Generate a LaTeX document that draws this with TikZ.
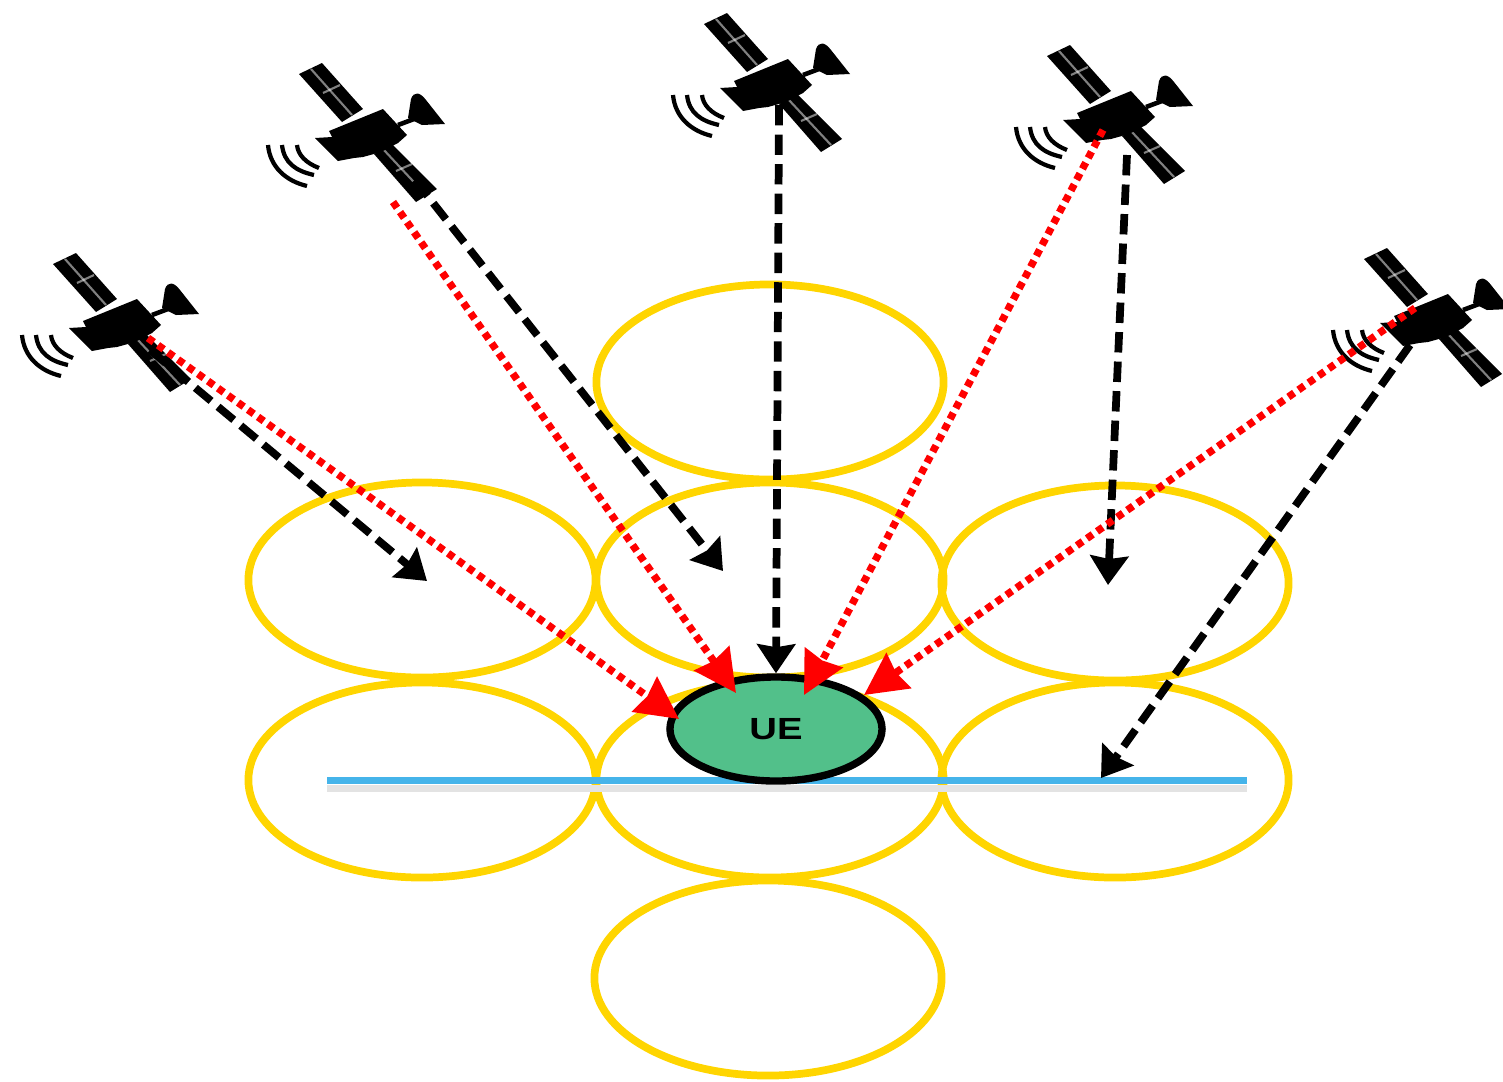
\documentclass[tikz,border=0pt]{standalone}
\usepackage{xcolor}
\usepackage{fontspec}
\setsansfont{Liberation Sans}
\usetikzlibrary{arrows.meta,shapes.geometric}

\definecolor{cellyellow}{HTML}{FFD500}
\definecolor{uegreen}{HTML}{52C08A}
\definecolor{lineblue}{HTML}{45B4EA}

\tikzset{
	cell/.style={ellipse, draw=cellyellow, line width=2.2pt, minimum width=3.47cm, minimum height=1.95cm, inner sep=0pt},
	losline/.style={-{Stealth[length=0.29cm, width=0.38cm, inset=0.03cm]}, black, line width=2.2pt, dash pattern=on 5.8pt off 2.6pt},
	nlosline/.style={-{Stealth[length=0.42cm, width=0.42cm, inset=0.03cm]}, red, line width=2.1pt, dash pattern=on 2pt off 1.5pt},
	sat/.pic={
		% wings
		\fill[black] (-69,-59) -- (-46,-70) -- (-5,-24) -- (-26,-11) -- cycle;
		\fill[black] (6,21) -- (24,11) -- (69,56) -- (48,69) -- cycle;
		\draw[white, opacity=0.5, line width=0.6pt] (-57,-64) -- (-16,-18);
		\draw[white, opacity=0.5, line width=0.6pt] (15,16) -- (58,62);
		\draw[white, opacity=0.5, line width=0.6pt] (-45,-40) -- (-28,-48);
		\draw[white, opacity=0.5, line width=0.6pt] (28,38) -- (44,31);
		% body
		\fill[black] (-39,-2) -- (15,-24) -- (39,2) -- (30,10) -- (13,19) -- (-5,24) -- (-14,25) -- (-30,28) -- (-53,5) -- (-36,4) -- cycle;
		% dish
		\draw[black, line width=1.3pt] (30,-8) -- (46,-14);
		\fill[black] (40,-15) -- (43,-34) .. controls (46,-42) and (52,-41) .. (58,-33) -- (77,-9) -- (54,-8) -- cycle;
		% signal
		\draw[black, line width=1.2pt] (-100,12) .. controls (-98,34) and (-82,48) .. (-61,53);
		\draw[black, line width=1.2pt] (-86,12) .. controls (-84,30) and (-72,38) .. (-54,42);
		\draw[black, line width=1.2pt] (-71,12) .. controls (-70,22) and (-62,30) .. (-49,35);
	}
}

\begin{document}
\begin{tikzpicture}[x=0.01cm, y=-0.01cm]
	\useasboundingbox (0,0) rectangle (1503,1081);

	% coverage cells
	\foreach \name/\cx/\cy in {top/770/382, ml/422/580, mc/770/580, mr/1115/583, ll/422/780, lc/770/780, lr/1115/780, bot/768/978}
		\node[cell] (\name) at (\cx,\cy) {};

	% ground line
	\coordinate (gl) at (327,780);
	\coordinate (gr) at (1247,780);
	\coordinate (gls) at (327,788);
	\coordinate (grs) at (1247,788);
	\draw[gray!22, line width=2pt] (gls) -- (grs);
	\draw[lineblue, line width=2pt] (gl) -- (gr);

	% satellites
	\pic at (122,323) {sat};
	\pic at (368,133) {sat};
	\pic at (773,83) {sat};
	\pic at (1116,115) {sat};
	\pic at (1433,318) {sat};

	\node[ellipse, draw=black, fill=uegreen, line width=2.1pt, minimum width=2.12cm, minimum height=1.04cm, inner sep=0pt] (ue) at (776,729) {\sffamily\bfseries\fontsize{8.7}{10}\selectfont\scalebox{1.25}[1]{UE}};

	\coordinate (s1a) at (150,350);
	\coordinate (s1b) at (148,338);
	\coordinate (s2a) at (415,180);
	\coordinate (s2b) at (393,202);
	\coordinate (s3a) at (779,105);
	\coordinate (s4a) at (1127,155);
	\coordinate (s4b) at (1103,130);
	\coordinate (s5a) at (1410,345);
	\coordinate (s5b) at (1415,308);

	\coordinate (e1) at (427,581);
	\coordinate (e2) at (723,571);
	\coordinate (e4) at (1108,585);
	\coordinate (e5) at (1101,778);

	\coordinate (r1) at (679,719);
	\coordinate (r2) at (736,693);
	\coordinate (r4) at (804,695);
	\coordinate (r5) at (864,695);

	% black beams
	\draw[losline] (s1a) -- (e1);
	\draw[losline] (s2a) -- (e2);
	\draw[losline] (s3a) -- (ue.north);
	\draw[losline] (s4a) -- (e4);
	\draw[losline] (s5a) -- (e5);

	% red beams
	\draw[nlosline] (s1b) -- (r1);
	\draw[nlosline] (s2b) -- (r2);
	\draw[nlosline] (s4b) -- (r4);
	\draw[nlosline] (s5b) -- (r5);
\end{tikzpicture}
\end{document}
